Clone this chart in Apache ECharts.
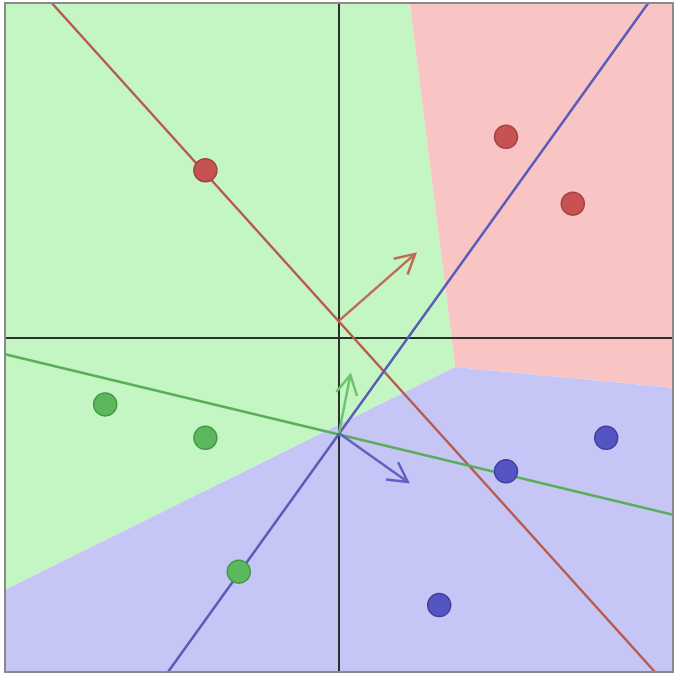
<!DOCTYPE html>
<html>
<head>
<meta charset="utf-8">
<script src="https://cdn.jsdelivr.net/npm/echarts@6/dist/echarts.min.js"></script>
<style>
  html, body { margin: 0; padding: 0; background: #fff; }
  #main { width: 676px; height: 675px; }
</style>
</head>
<body>
<div id="main"></div>
<script>
// data points per class
var redPts = [[-2, 2.5], [2.5, 3], [3.5, 2]];
var greenPts = [[-3.5, -1], [-2, -1.5], [-1.5, -3.5]];
var bluePts = [[4, -1.5], [2.5, -2], [1.5, -4]];

// decision lines (score = 0), two end points each
var redLine = [[-4.3, 5], [4.73, -5]];
var greenLine = [[-5, -0.25], [5, -2.65]];
var blueLine = [[-2.56, -5], [4.63, 5]];

// weight arrows: start, end
var redArrow = [[0.01, 0.26], [1.14, 1.25]];
var greenArrow = [[0, -1.43], [0.17, -0.56]];
var blueArrow = [[0, -1.43], [1.03, -2.16]];

// class regions, vertices
var greenRegion = [[-5, 5], [1.06, 5], [1.74, -0.44], [-5, -3.77]];
var redRegion = [[1.06, 5], [5, 5], [5, -0.75], [1.74, -0.44]];
var blueRegion = [[-5, -3.77], [1.74, -0.44], [5, -0.75], [5, -5], [-5, -5]];

function regionSeries(pts, color) {
  return {
    type: "custom",
    z: 1,
    silent: true,
    data: [0],
    renderItem: function (params, api) {
      var points = pts.map(function (p) {
        return api.coord(p);
      });
      return {
        type: "polygon",
        shape: { points: points },
        style: { fill: color },
      };
    },
  };
}

function arrowSeries(arr, color) {
  return {
    type: "custom",
    z: 4,
    silent: true,
    data: [0],
    renderItem: function (params, api) {
      var a = api.coord(arr[0]);
      var b = api.coord(arr[1]);
      var ang = Math.atan2(b[1] - a[1], b[0] - a[0]);
      var len = 22;
      var spread = 0.5;
      var l1 = [b[0] - len * Math.cos(ang - spread), b[1] - len * Math.sin(ang - spread)];
      var l2 = [b[0] - len * Math.cos(ang + spread), b[1] - len * Math.sin(ang + spread)];
      var st = { stroke: color, lineWidth: 2.5, fill: null };
      return {
        type: "group",
        children: [
          { type: "line", shape: { x1: a[0], y1: a[1], x2: b[0], y2: b[1] }, style: st },
          { type: "polyline", shape: { points: [l1, b, l2] }, style: st },
        ],
      };
    },
  };
}

function lineSeries(pts, color) {
  return {
    type: "line",
    z: 3,
    silent: true,
    data: pts,
    symbol: "none",
    lineStyle: { color: color, width: 2.5 },
  };
}

function pointSeries(pts, color, border) {
  return {
    type: "scatter",
    z: 5,
    data: pts,
    symbolSize: 23,
    itemStyle: { color: color, borderColor: border, borderWidth: 1.5, opacity: 1 },
  };
}

var myChart = echarts.init(document.getElementById("main"));
var option = {
  animation: false,
  backgroundColor: "#fff",
  grid: {
    left: 5,
    right: 3,
    top: 3,
    bottom: 3,
    show: true,
    z: 10,
    borderColor: "#8a8a8a",
    borderWidth: 2,
    backgroundColor: "transparent",
  },
  xAxis: {
    type: "value",
    min: -5,
    max: 5,
    z: 2,
    axisLine: { show: true, onZero: true, lineStyle: { color: "#2e2e2e", width: 2 } },
    axisTick: { show: false },
    axisLabel: { show: false },
    splitLine: { show: false },
  },
  yAxis: {
    type: "value",
    min: -5,
    max: 5,
    z: 2,
    axisLine: { show: true, onZero: true, lineStyle: { color: "#2e2e2e", width: 2 } },
    axisTick: { show: false },
    axisLabel: { show: false },
    splitLine: { show: false },
  },
  series: [
    regionSeries(greenRegion, "#c4f6c4"),
    regionSeries(redRegion, "#f8c4c4"),
    regionSeries(blueRegion, "#c6c6f6"),
    lineSeries(redLine, "#b85a4e"),
    lineSeries(greenLine, "#5aae5a"),
    lineSeries(blueLine, "#5a5ab8"),
    arrowSeries(redArrow, "#bf6a55"),
    arrowSeries(greenArrow, "#6cc46c"),
    arrowSeries(blueArrow, "#6060c4"),
    pointSeries(redPts, "#c85252", "#a04444"),
    pointSeries(greenPts, "#5cb85c", "#469646"),
    pointSeries(bluePts, "#5454c2", "#40409c"),
  ],
};
myChart.setOption(option);
</script>
</body>
</html>
